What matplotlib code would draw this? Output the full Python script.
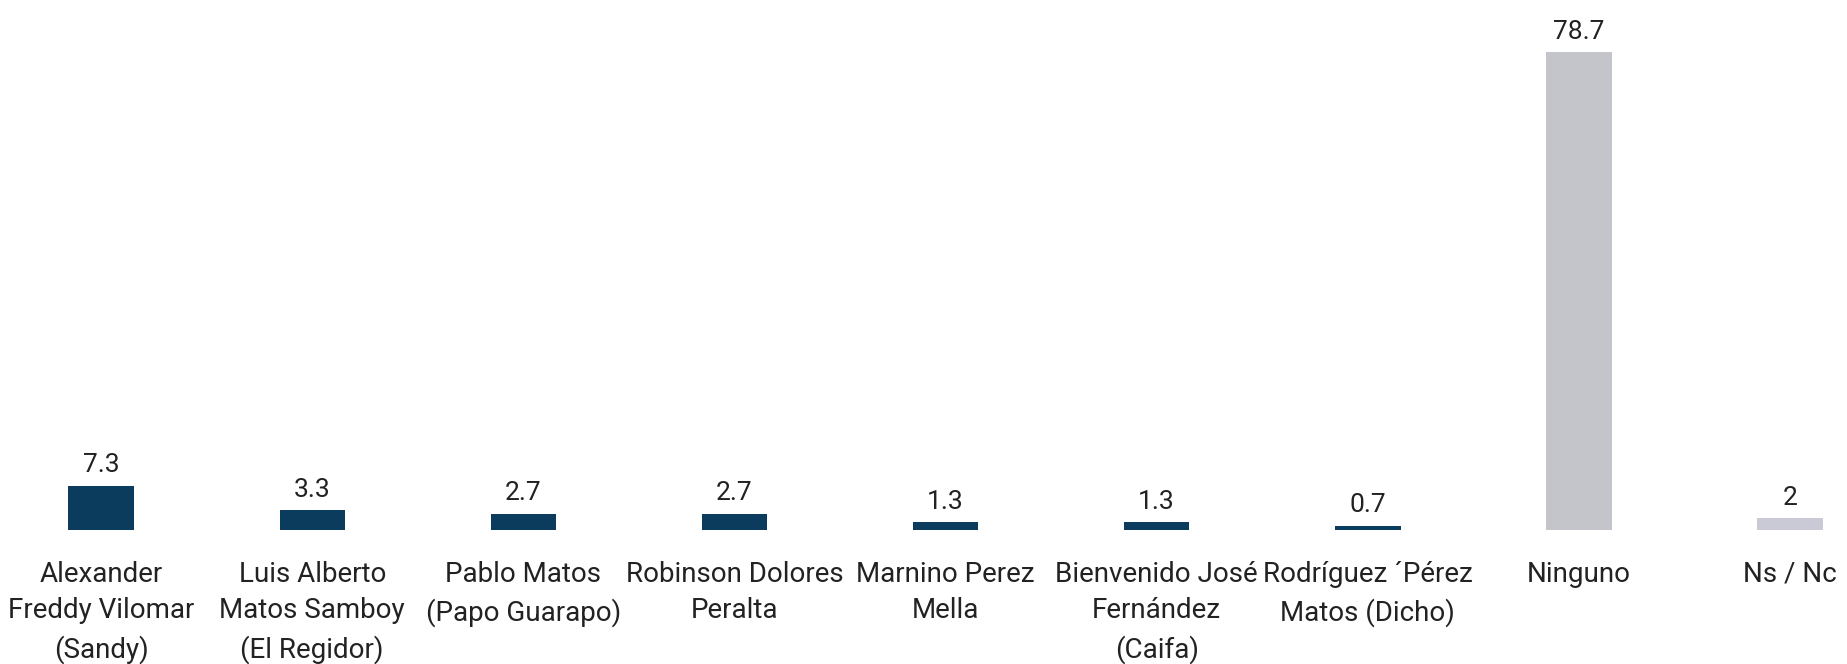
import matplotlib
matplotlib.use("Agg")
import matplotlib.pyplot as plt

categories = [
    "Alexander\nFreddy Vilomar\n(Sandy)",
    "Luis Alberto\nMatos Samboy\n(El Regidor)",
    "Pablo Matos\n(Papo Guarapo)",
    "Robinson Dolores\nPeralta",
    "Marnino Perez\nMella",
    "Bienvenido José\nFernández\n(Caifa)",
    "Rodríguez ´Pérez\nMatos (Dicho)",
    "Ninguno",
    "Ns / Nc",
]
values = [7.3, 3.3, 2.7, 2.7, 1.3, 1.3, 0.7, 78.7, 2]
value_labels = ["7.3", "3.3", "2.7", "2.7", "1.3", "1.3", "0.7", "78.7", "2"]
colors = ["#0b3c5d"] * 7 + ["#c4c5ca", "#c9cad6"]

plt.rcParams['font.family'] = ['Roboto', 'DejaVu Sans']

fig = plt.figure(figsize=(18.47, 6.64), dpi=100)
ax = fig.add_axes([0, 134 / 664, 1, 530 / 664])
x = list(range(len(values)))
bars = ax.bar(x, values, width=0.31, color=colors)
for xi, v, lab in zip(x, values, value_labels):
    ax.annotate(lab, (xi, v), xytext=(0, 6), textcoords="offset points",
                ha="center", va="bottom", fontsize=19, color="#222222")
ax.set_xlim(-0.479, 8.27)
ax.set_ylim(0, 87.3)
ax.set_xticks(x)
ax.set_xticklabels(categories, fontsize=20, color="#222222", linespacing=1.47)
ax.tick_params(axis="x", length=0, pad=22)
ax.set_yticks([])
for s in ax.spines.values():
    s.set_visible(False)
fig.savefig("out.png", dpi=100, facecolor="white")
